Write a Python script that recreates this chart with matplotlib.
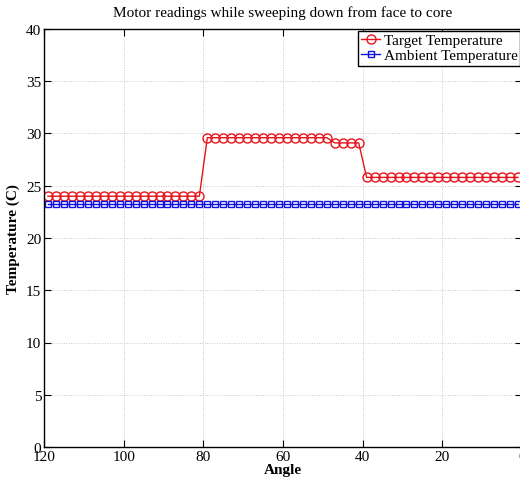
import matplotlib
matplotlib.use("Agg")
import matplotlib.pyplot as plt

plt.rcParams["font.family"] = ["Liberation Serif", "DejaVu Serif"]

# --- data ---
angles = [119 - 2 * i for i in range(60)]  # 119, 117, ..., 1
target_temp = [24.0] * 20 + [29.6] * 16 + [29.1] * 4 + [25.8] * 20
ambient_temp = [23.3] * 60

x_ticks = [120, 100, 80, 60, 40, 20, 0]
y_ticks = [0, 5, 10, 15, 20, 25, 30, 35, 40]

fig = plt.figure(figsize=(5.2, 4.81), dpi=100)
ax = fig.add_axes([44 / 520, 33 / 481, 478 / 520, 418 / 481])

ax.plot(angles, target_temp, color="#e8141c", marker="o", markersize=6.5,
        markerfacecolor="none", markeredgewidth=1.0, linewidth=1.0,
        label="Target Temperature")
ax.plot(angles, ambient_temp, color="#1010e0", marker="s", markersize=5,
        markerfacecolor="none", markeredgewidth=1.0, linewidth=1.0,
        label="Ambient Temperature")

ax.set_xlim(120, 0)
ax.set_ylim(0, 40)
ax.set_xticks(x_ticks)
ax.set_yticks(y_ticks)
ax.tick_params(direction="in", length=5, width=0.8, labelsize=11,
               top=True, right=True, pad=2)
ax.grid(True, linestyle=(0, (1, 2.5)), color="#999999", linewidth=0.5)
for s in ax.spines.values():
    s.set_linewidth(1.0)

ax.set_title("Motor readings while sweeping down from face to core",
             fontsize=11, pad=9)
ax.set_xlabel("Angle", fontsize=11, fontweight="bold", labelpad=0)
ax.set_ylabel("Temperature (C)", fontsize=11, fontweight="bold", labelpad=4)

leg = ax.legend(loc="upper right", fontsize=11, borderaxespad=0.1,
                fancybox=False, framealpha=1, edgecolor="black",
                handlelength=1.3, handletextpad=0.2, borderpad=0.2,
                labelspacing=0.1)
leg.get_frame().set_linewidth(1.0)

fig.savefig("out.png", dpi=100)
